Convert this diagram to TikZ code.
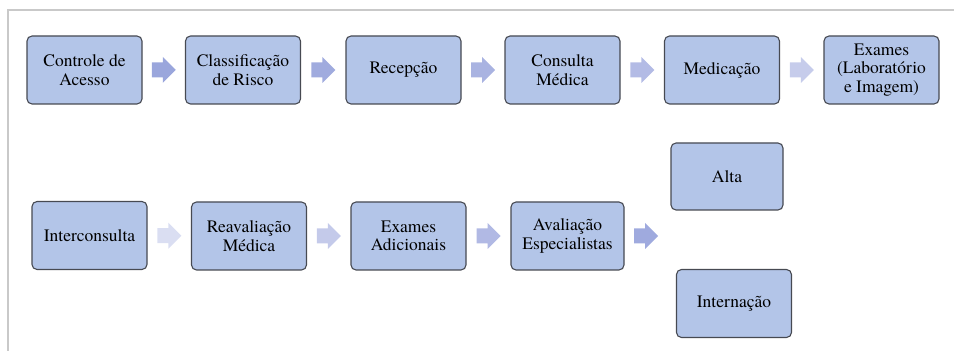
\documentclass[tikz,border=0pt]{standalone}
\usepackage{fontspec}
\setmainfont{TeX Gyre Termes}
\usetikzlibrary{calc}

\definecolor{boxfill}{HTML}{B3C5E8}
\definecolor{boxline}{HTML}{474A52}
\definecolor{frameline}{HTML}{C9C9C9}
\definecolor{arA}{HTML}{9AA6DC}
\definecolor{arB}{HTML}{A0ABDE}
\definecolor{arC}{HTML}{A9B3E1}
\definecolor{arD}{HTML}{B3BBE5}
\definecolor{arE}{HTML}{C6CCEB}
\definecolor{arF}{HTML}{DADEF2}
\definecolor{arG}{HTML}{C4CAEA}
\definecolor{arH}{HTML}{B1B9E4}
\definecolor{arI}{HTML}{9FAADE}

\tikzset{
  stepbox/.style={draw=boxline, fill=boxfill, line width=1.1pt,
    rounded corners=5pt, minimum width=115pt, minimum height=68pt,
    inner sep=2pt, align=center,
    font=\rmfamily\fontsize{17.5}{18.5}\selectfont},
}

% block arrow centred on a coordinate
\newcommand{\flowarrow}[2]{%
  \fill[#1] ($(#2)+(-12,-7.5)$) -- ++(11,0) -- ++(0,-5.5) -- ++(13,13)
    -- ++(-13,13) -- ++(0,-5.5) -- ++(-11,0) -- cycle;}

\begin{document}
\begin{tikzpicture}[x=1pt,y=1pt]
\useasboundingbox (0,0) rectangle (954,351);

% frame lines
\draw[frameline, line width=1.5pt] (8,0) -- (8,341) -- (954,341);

% first row
\node[stepbox] (acesso) at (84.5,281) {Controle de\\Acesso};
\node[stepbox] (risco) at (243,281) {Classificação\\de Risco};
\node[stepbox] (recepcao) at (403.5,281) {Recepção};
\node[stepbox] (consulta) at (562.5,281) {Consulta\\Médica};
\node[stepbox] (medicacao) at (722,281) {Medicação};
\node[stepbox] (exames) at (881.5,281) {Exames\\(Laboratório\\e Imagem)};

% second row
\node[stepbox] (inter) at (89.5,115.5) {Interconsulta};
\node[stepbox] (reaval) at (249,115) {Reavaliação\\Médica};
\node[stepbox] (adicionais) at (408.5,115) {Exames\\Adicionais};
\node[stepbox, minimum width=113pt] (especial) at (567.5,115) {Avaliação\\Especialistas};
\node[stepbox, minimum width=112pt, minimum height=67pt] (alta) at (727,174.5) {Alta};
\node[stepbox] (internacao) at (734,47.5) {Internação};

% arrows between steps
\coordinate (p1) at ($(acesso.east)!0.5!(risco.west)$);
\coordinate (p2) at ($(risco.east)!0.5!(recepcao.west)$);
\coordinate (p3) at ($(recepcao.east)!0.5!(consulta.west)$);
\coordinate (p4) at ($(consulta.east)!0.5!(medicacao.west)$);
\coordinate (p5) at ($(medicacao.east)!0.5!(exames.west)$);
\coordinate (q1) at ($(inter.east)!0.5!(reaval.west)$);
\coordinate (q2) at ($(reaval.east)!0.5!(adicionais.west)$);
\coordinate (q3) at ($(adicionais.east)!0.5!(especial.west)$);
\coordinate (q4) at ($(especial.east)+(21.5,0)$);

\flowarrow{arA}{p1}
\flowarrow{arB}{p2}
\flowarrow{arC}{p3}
\flowarrow{arD}{p4}
\flowarrow{arE}{p5}
\flowarrow{arF}{q1}
\flowarrow{arG}{q2}
\flowarrow{arH}{q3}
\flowarrow{arI}{q4}
\end{tikzpicture}
\end{document}
